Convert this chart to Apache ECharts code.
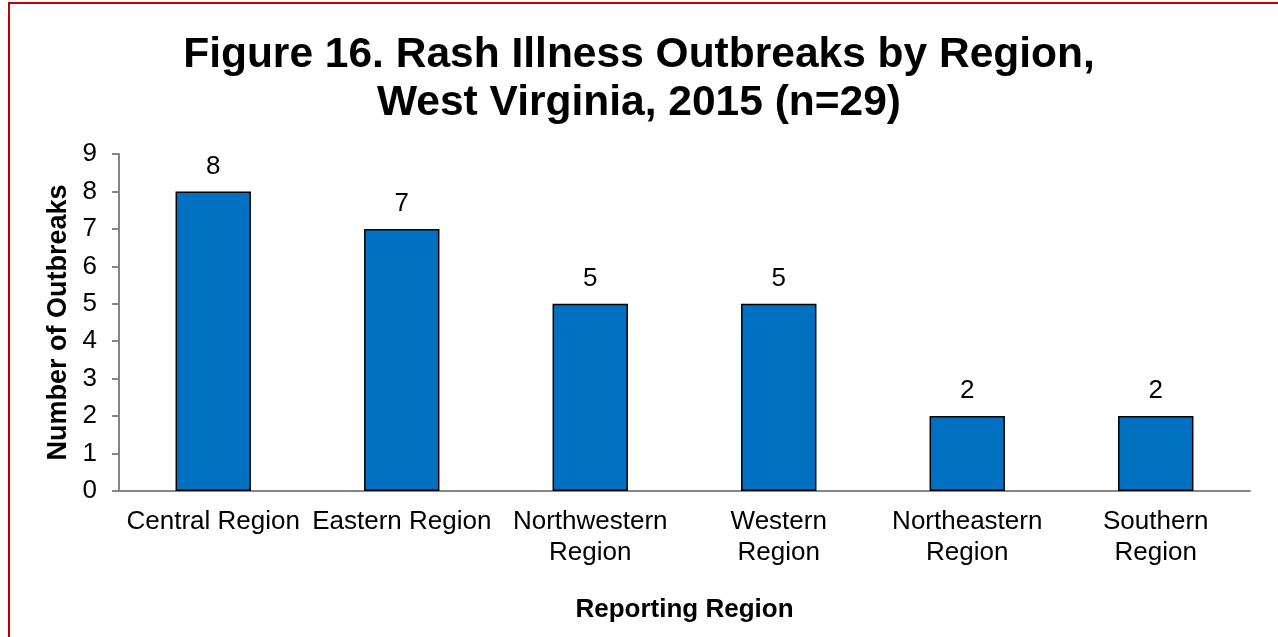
<!DOCTYPE html>
<html>
<head>
<meta charset="utf-8">
<script src="https://cdn.jsdelivr.net/npm/echarts@6/dist/echarts.min.js"></script>
<style>
html,body{margin:0;padding:0;background:#fff;}
#chart{width:1278px;height:637px;}
</style>
</head>
<body>
<div id="chart"></div>
<script>
const categories = ["Central Region", "Eastern Region", "Northwestern\nRegion", "Western\nRegion", "Northeastern\nRegion", "Southern\nRegion"];
const outbreaks = [8, 7, 5, 5, 2, 2];
const yTicks = [0, 9, 1];
const titleText = "Figure 16. Rash Illness Outbreaks by Region,\nWest Virginia, 2015 (n=29)";

const chart = echarts.init(document.getElementById('chart'), null, {renderer: 'canvas'});
const FONT = 'Liberation Sans, Arial, sans-serif';
chart.setOption({
  animation: false,
  backgroundColor: '#fff',
  title: {
    text: titleText,
    left: 'center',
    top: 26,
    textStyle: {fontFamily: FONT, fontSize: 42.5, fontWeight: 'bold', color: '#000', lineHeight: 48}
  },
  graphic: [
    {type: 'rect', shape: {x: 8, y: 2, width: 1270, height: 2}, style: {fill: '#c00000'}},
    {type: 'rect', shape: {x: 8, y: 2, width: 2, height: 635}, style: {fill: '#c00000'}}
  ],
  grid: {left: 119, right: 28, top: 154, bottom: 146},
  xAxis: {
    type: 'category',
    data: categories,
    name: 'Reporting Region',
    nameLocation: 'middle',
    nameGap: 106,
    nameTextStyle: {fontFamily: FONT, fontSize: 26, fontWeight: 'bold', color: '#000'},
    axisLine: {lineStyle: {color: '#868686', width: 2}},
    axisTick: {length: 7, lineStyle: {color: '#868686', width: 2}},
    axisLabel: {fontFamily: FONT, fontSize: 26, color: '#000', margin: 15, lineHeight: 31, interval: 0}
  },
  yAxis: {
    type: 'value',
    min: yTicks[0], max: yTicks[1], interval: yTicks[2],
    name: 'Number of Outbreaks',
    nameLocation: 'middle',
    nameGap: 44,
    nameTextStyle: {fontFamily: FONT, fontSize: 27, fontWeight: 'bold', color: '#000'},
    axisLine: {show: true, lineStyle: {color: '#868686', width: 2}},
    axisTick: {show: true, length: 7, lineStyle: {color: '#868686', width: 2}},
    splitLine: {show: false},
    axisLabel: {fontFamily: FONT, fontSize: 26, color: '#000', margin: 22}
  },
  series: [{
    type: 'bar',
    data: outbreaks,
    barWidth: '40%',
    itemStyle: {color: '#0070C0', borderColor: '#000', borderWidth: 1.5},
    label: {show: true, position: 'top', distance: 12, fontFamily: FONT, fontSize: 26, color: '#000'}
  }]
});
</script>
</body>
</html>
